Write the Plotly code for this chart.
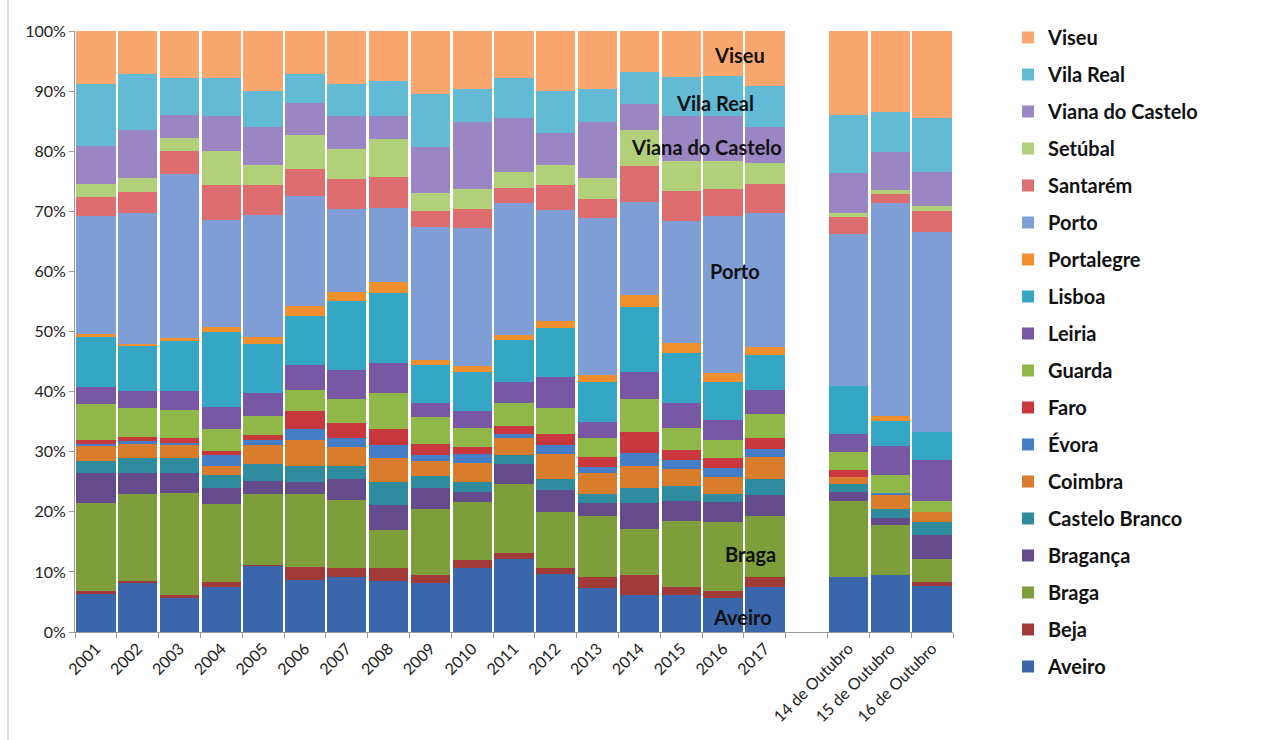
import plotly.graph_objects as go

categories = ["2001", "2002", "2003", "2004", "2005", "2006", "2007", "2008", "2009",
              "2010", "2011", "2012", "2013", "2014", "2015", "2016", "2017", " ",
              "14 de Outubro", "15 de Outubro", "16 de Outubro"]

# values (%) per district, bottom to top; None for the empty gap column
aveiro   = [6.4, 8.1, 5.6, 7.5, 11.0, 8.7, 9.1, 8.5, 8.2, 10.6, 12.1, 9.6, 7.4, 6.1, 6.1, 5.6, 7.5, None, 9.2, 9.5, 7.6]
beja     = [0.5, 0.4, 0.5, 0.9, 0.1, 2.1, 1.6, 2.1, 1.3, 1.4, 1.0, 1.1, 1.7, 3.4, 1.4, 1.3, 1.7, None, 0.0, 0.0, 0.8]
braga    = [14.5, 14.4, 17.0, 12.9, 11.9, 12.1, 11.2, 6.3, 10.9, 9.6, 11.6, 9.3, 10.2, 7.6, 11.0, 11.4, 10.1, None, 12.6, 8.3, 3.8]
braganca = [5.0, 3.5, 3.3, 2.6, 2.2, 2.1, 3.6, 4.2, 3.5, 1.7, 3.2, 3.6, 2.1, 4.3, 3.3, 3.3, 3.5, None, 1.5, 1.1, 3.9]
castelo_branco = [2.1, 2.6, 2.6, 2.3, 2.7, 2.7, 2.2, 3.8, 2.0, 1.7, 1.5, 1.9, 1.5, 2.5, 2.5, 1.4, 2.7, None, 1.4, 1.5, 2.2]
coimbra  = [2.5, 2.2, 2.2, 1.5, 3.2, 4.2, 3.0, 4.1, 2.5, 3.1, 2.9, 4.2, 3.6, 3.8, 2.9, 2.8, 3.7, None, 1.1, 2.4, 1.7]
evora    = [0.2, 0.6, 0.2, 1.7, 0.9, 1.8, 1.5, 2.1, 1.0, 1.5, 0.7, 1.4, 1.0, 2.1, 1.5, 1.5, 1.3, None, 0.0, 0.3, 0.0]
faro     = [0.8, 0.6, 0.8, 0.7, 0.7, 3.1, 2.6, 2.7, 1.9, 1.2, 1.2, 1.8, 1.6, 3.5, 1.6, 1.6, 1.7, None, 1.1, 0.0, 0.0]
guarda   = [6.0, 4.8, 4.8, 3.7, 3.3, 3.4, 4.0, 6.0, 4.5, 3.2, 3.9, 4.4, 3.1, 5.4, 3.7, 3.1, 4.0, None, 3.1, 3.1, 1.8]
leiria   = [2.8, 2.9, 3.1, 3.7, 3.7, 4.2, 4.8, 4.9, 2.3, 2.8, 3.5, 5.1, 2.7, 4.5, 4.1, 3.3, 4.0, None, 2.9, 4.7, 6.8]
lisboa   = [8.3, 7.5, 8.3, 12.5, 8.3, 8.1, 11.4, 11.7, 6.4, 6.4, 7.0, 8.2, 6.7, 10.8, 8.3, 6.3, 5.9, None, 8.1, 4.2, 4.7]
portalegre = [0.5, 0.4, 0.5, 0.8, 1.1, 1.7, 1.5, 1.9, 0.8, 1.0, 0.9, 1.1, 1.1, 2.0, 1.7, 1.5, 1.4, None, 0.0, 0.9, 0.0]
porto    = [19.6, 21.8, 27.3, 17.8, 20.3, 18.3, 13.9, 12.2, 22.1, 23.1, 21.8, 18.6, 26.2, 15.5, 20.3, 26.2, 22.3, None, 25.3, 35.3, 33.2]
santarem = [3.2, 3.4, 3.8, 5.7, 4.9, 4.6, 5.0, 5.2, 2.6, 3.1, 2.6, 4.0, 3.1, 6.1, 5.0, 4.4, 4.8, None, 2.8, 1.5, 3.5]
setubal  = [2.1, 2.4, 2.2, 5.7, 3.4, 5.6, 5.0, 6.3, 3.0, 3.3, 2.6, 3.4, 3.6, 5.9, 5.0, 4.7, 3.4, None, 0.7, 0.7, 0.9]
viana    = [6.4, 7.9, 3.8, 5.8, 6.4, 5.4, 5.4, 3.8, 7.7, 11.1, 9.0, 5.4, 9.2, 4.3, 7.5, 7.5, 6.1, None, 6.5, 6.3, 5.6]
vila_real = [10.3, 9.4, 6.1, 6.3, 6.0, 4.8, 5.3, 5.8, 8.9, 5.5, 6.6, 7.0, 5.5, 5.3, 6.5, 6.6, 6.8, None, 9.7, 6.8, 9.0]
viseu    = [8.8, 7.1, 7.9, 7.9, 9.9, 7.1, 8.9, 8.4, 10.4, 9.7, 7.9, 9.9, 9.7, 6.9, 7.6, 7.5, 9.1, None, 14.0, 13.4, 14.5]

series_names = ["Aveiro", "Beja", "Braga", "Bragança", "Castelo Branco", "Coimbra", "Évora",
                "Faro", "Guarda", "Leiria", "Lisboa", "Portalegre", "Porto", "Santarém",
                "Setúbal", "Viana do Castelo", "Vila Real", "Viseu"]
series_values = [aveiro, beja, braga, braganca, castelo_branco, coimbra, evora, faro, guarda,
                 leiria, lisboa, portalegre, porto, santarem, setubal, viana, vila_real, viseu]
series_colors = ["#3C66AC", "#A33A3A", "#7E9E3B", "#634B8C", "#2F8C9E", "#D97C2C",
                 "#457DC6", "#C8383C", "#8FB848", "#7857A4", "#35A6C3", "#F08F2E",
                 "#7F9ED5", "#DE6D6F", "#B2D07A", "#9A86C2", "#62BAD5", "#F9A76F"]

y_ticks = [0, 10, 20, 30, 40, 50, 60, 70, 80, 90, 100]
y_tick_labels = ["0%", "10%", "20%", "30%", "40%", "50%", "60%", "70%", "80%", "90%", "100%"]

FONT = "Lato"

fig = go.Figure()
n = len(series_names)
for i, (name, vals, col) in enumerate(zip(series_names, series_values, series_colors)):
    fig.add_trace(go.Bar(
        x=categories, y=vals, name=name, legendgroup=name,
        legendrank=n - i,
        marker=dict(color=col, line=dict(width=0)),
    ))

fig.update_layout(
    barmode="stack",
    barnorm="percent",
    bargap=0.06,
    width=1264, height=740,
    margin=dict(l=75, r=311, t=31, b=108),
    paper_bgcolor="white", plot_bgcolor="white",
    font=dict(family=FONT, size=14, color="#222222"),
    legend=dict(
        traceorder="grouped",
        tracegroupgap=8,
        xref="container", yref="container",
        x=0.7975, xanchor="left", y=0.9757, yanchor="top",
        maxheight=1,
        font=dict(family=FONT, size=20, color="#111111", weight="bold"),
        itemwidth=30,
    ),
    showlegend=True,
)

fig.update_yaxes(
    range=[0, 100], tickmode="array", tickvals=y_ticks, ticktext=y_tick_labels,
    showgrid=False, zeroline=False,
    showline=True, linecolor="#9a9a9a", linewidth=1,
    ticks="outside", ticklen=5, tickcolor="#9a9a9a",
    tickfont=dict(family=FONT, size=16, color="#222222"),
)
fig.update_xaxes(
    type="category", categoryorder="array", categoryarray=categories,
    showgrid=False, showline=True, linecolor="#9a9a9a", linewidth=1,
    ticks="outside", ticklen=5, tickcolor="#9a9a9a", tickson="boundaries",
    tickangle=-45,
    tickfont=dict(family=FONT, size=16, color="#222222"),
)

labels = [
    ("Viseu", 0.7574, 0.9601),
    ("Vila Real", 0.7289, 0.8802),
    ("Viana do Castelo", 0.7198, 0.8070),
    ("Porto", 0.7517, 0.6007),
    ("Braga", 0.7688, 0.1298),
    ("Aveiro", 0.7597, 0.0250),
]
for text, xp, yp in labels:
    fig.add_annotation(
        text=text, x=xp, y=yp, xref="paper", yref="paper",
        showarrow=False, xanchor="center", yanchor="middle",
        font=dict(family=FONT, size=20, color="#111111", weight="bold"),
    )

# light frame line on the left edge of the picture
fig.add_shape(type="line", xref="paper", yref="paper",
              x0=-0.0763, x1=-0.0763, y0=-0.18, y1=1.06,
              line=dict(color="#bdbdbd", width=1))

fig.write_html("out.html", config={"displayModeBar": False},
               post_script="document.body.style.margin='0px';")
